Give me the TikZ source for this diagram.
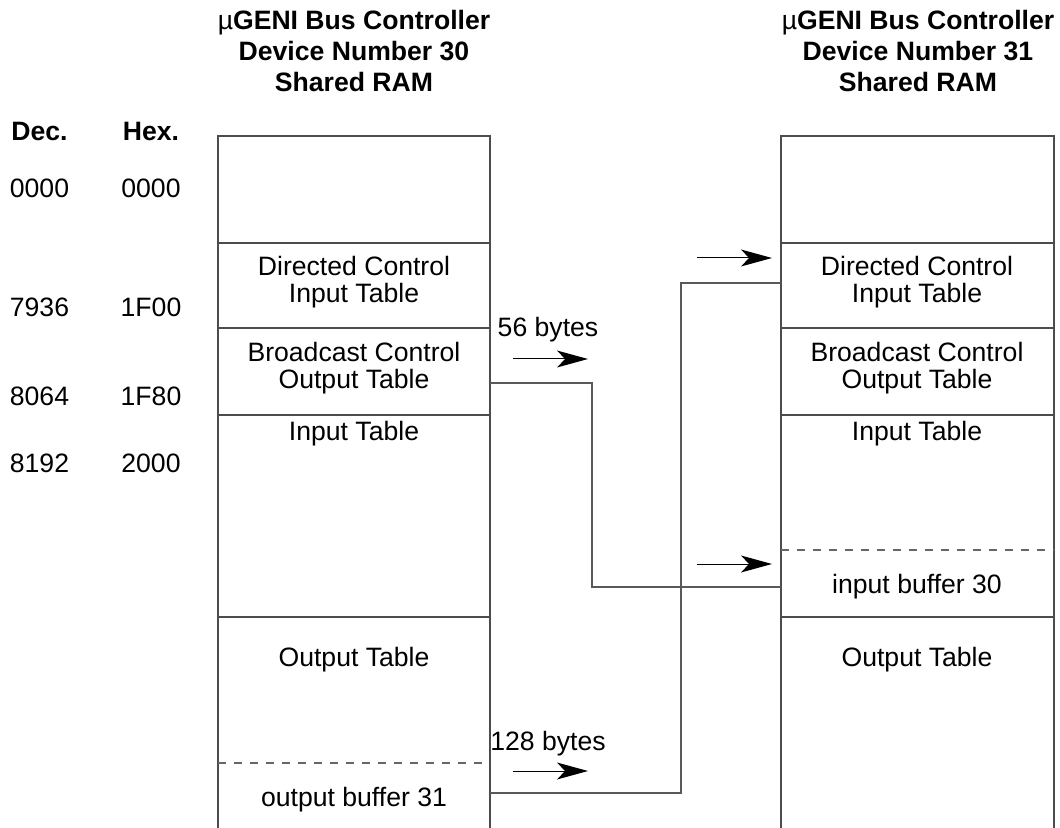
\documentclass[tikz,border=0pt]{standalone}
\usepackage{fontspec}
\setmainfont{Liberation Sans}
\usetikzlibrary{arrows.meta}
\begin{document}
\begin{tikzpicture}[x=0.5pt,y=-0.5pt,
  every node/.style={font=\fontsize{13.3}{13.8}\selectfont, inner sep=0pt, align=center},
  ttl/.style={font=\fontsize{13.3}{15.5}\selectfont\bfseries},
  boxline/.style={draw=black!70, line width=0.8pt},
  dashline/.style={draw=black!60, line width=0.6pt, dash pattern=on 4pt off 4pt},
  conn/.style={draw=black!65, line width=0.8pt},
  shaft/.style={draw=black, line width=0.5pt},
  headfill/.style={fill=black}
]
\useasboundingbox (0,0) rectangle (1060,828);
% titles
\node[ttl] (t30) at (354,51) {{\mdseries µ}GENI Bus Controller\\Device Number 30\\Shared RAM};
\node[ttl] (t31) at (918,51) {{\mdseries µ}GENI Bus Controller\\Device Number 31\\Shared RAM};
% address columns
\node[font=\fontsize{13.3}{14}\selectfont\bfseries] (dec) at (39.5,131) {Dec.};
\node[font=\fontsize{13.3}{14}\selectfont\bfseries] (hex) at (151,131) {Hex.};
\node (d0) at (39.5,188) {0000};   \node (h0) at (151,188) {0000};
\node (d1) at (39.5,307) {7936};   \node (h1) at (151,307) {1F00};
\node (d2) at (39.5,396) {8064};   \node (h2) at (151,396) {1F80};
\node (d3) at (39.5,463) {8192};   \node (h3) at (151,463) {2000};
% left memory
\draw[boxline] (218,828) -- (218,136) -- (490,136) -- (490,828);
\foreach \yy in {243,328,415,617} \draw[boxline] (218,\yy) -- (490,\yy);
\draw[dashline] (218,763) -- (490,763);
\node (ldc) at (354,282) {Directed Control\\Input Table};
\node (lbc) at (354,368) {Broadcast Control\\Output Table};
\node (lin) at (354,434) {Input Table};
\node (lout) at (354,660) {Output Table};
\node (lob) at (354,800) {output buffer 31};
% right memory
\draw[boxline] (781,828) -- (781,136) -- (1054,136) -- (1054,828);
\foreach \yy in {243,328,415,617} \draw[boxline] (781,\yy) -- (1054,\yy);
\draw[dashline] (781,550) -- (1054,550);
\node (rdc) at (917,282) {Directed Control\\Input Table};
\node (rbc) at (917,368) {Broadcast Control\\Output Table};
\node (rin) at (917,434) {Input Table};
\node (rib) at (917,587) {input buffer 30};
\node (rout) at (917,660) {Output Table};
% connectors
\coordinate (bcout) at (490,383);
\coordinate (ib30) at (781,587);
\coordinate (ob31) at (490,793);
\coordinate (dcin) at (781,283);
\draw[conn] (bcout) -- ++(102,0) |- (ib30);
\draw[conn] (ob31) -- ++(191,0) |- (dcin);
% labels and arrows
\node (b56) at (548,330) {56 bytes};
\node (b128) at (548,744) {128 bytes};
\coordinate (a1s) at (513,359); \coordinate (a1e) at (588,359);
\coordinate (a2s) at (697,258); \coordinate (a2e) at (772,258);
\coordinate (a3s) at (697,564); \coordinate (a3e) at (772,564);
\coordinate (a4s) at (513,771); \coordinate (a4e) at (588,771);
\foreach \s/\e in {a1s/a1e,a2s/a2e,a3s/a3e,a4s/a4e}{
  \draw[shaft] (\s) -- ([xshift=-10pt]\e);
  \fill[headfill] (\e) -- ++(-31,-8.5) -- ++(8,8.5) -- ++(-8,8.5) -- cycle;
}
\end{tikzpicture}
\end{document}
